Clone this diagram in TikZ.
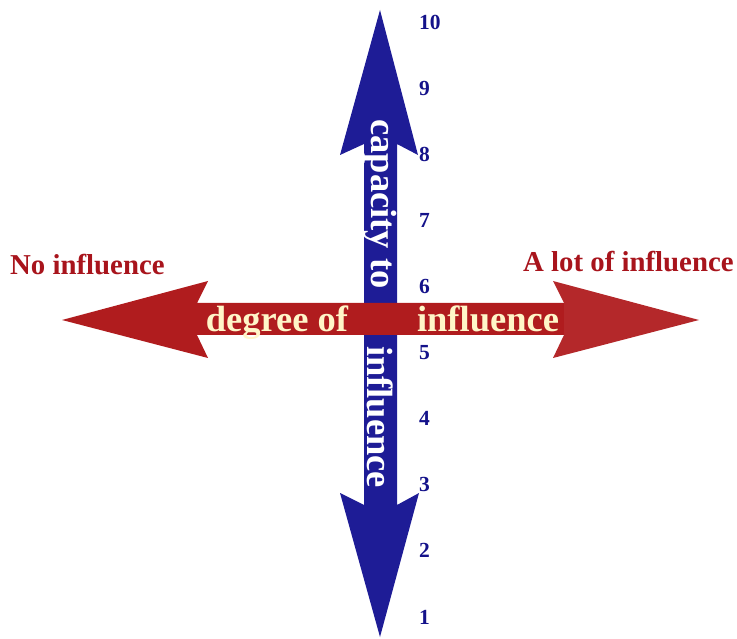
\documentclass[tikz,border=0pt]{standalone}
\usepackage{fontspec}
\setmainfont{Liberation Serif}
\definecolor{arrowblue}{RGB}{30,28,150}
\definecolor{arrowred}{RGB}{176,28,30}
\definecolor{arrowredlight}{RGB}{180,40,42}
\definecolor{labelred}{RGB}{168,20,28}
\definecolor{numblue}{RGB}{20,18,138}
\definecolor{cream}{RGB}{255,246,200}
\tikzset{
  bigtext/.style={inner sep=0pt, font=\fontsize{36.5}{40}\selectfont\bfseries},
  sidelabel/.style={inner sep=0pt, text=labelred, font=\fontsize{28.8}{32}\selectfont\bfseries, anchor=base west},
  num/.style={inner sep=0pt, text=numblue, font=\fontsize{21.5}{24}\selectfont\bfseries, anchor=west}
}
\begin{document}
\begin{tikzpicture}[x=1pt,y=-1pt]
\useasboundingbox (0,0) rectangle (737,639);
% vertical blue arrow
\fill[arrowblue] (380,10) -- (418,155) -- (397,144) -- (397,505) -- (419,493) -- (380,637)
  -- (340,493) -- (364,505) -- (364,144) -- (340,155) -- cycle;
% horizontal red arrow
\fill[arrowred] (62,320) -- (208,281) -- (197,303) -- (565,303) -- (565,335) -- (197,335) -- (208,358) -- cycle;
\fill[arrowredlight] (564,303) -- (553,281) -- (699,320) -- (553,358) -- (564,335) -- cycle;
% texts on arrows
\node[bigtext, text=white, rotate=-90] (cap) at (380,204) {capacity to};
\node[bigtext, text=white, rotate=-90] (infv) at (380,417) {influence};
\node[bigtext, text=cream, anchor=base] (deg) at (277,331) {degree of};
\node[bigtext, text=cream, anchor=base] (infh) at (488,331) {influence};
% side labels
\node[sidelabel] (no) at (10,275) {No influence};
\node[sidelabel] (alot) at (523,272) {A lot of influence};
% scale numbers
\foreach \n/\yy in {10/22,9/88,8/154,7/220,6/286,5/352.5,4/418.6,3/484.7,2/550.8,1/617}
  \node[num] (n\n) at (419,\yy) {\n};
\end{tikzpicture}
\end{document}
